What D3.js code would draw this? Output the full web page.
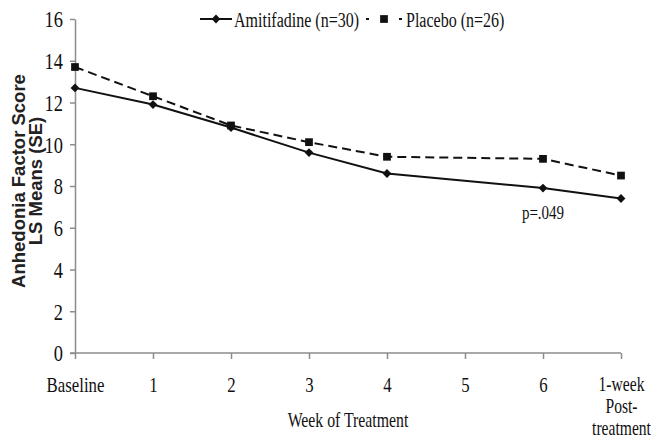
<!DOCTYPE html>
<html>
<head>
<meta charset="utf-8">
<script src="https://cdn.jsdelivr.net/npm/d3@7/dist/d3.min.js"></script>
<style>
  html, body { margin: 0; padding: 0; background: #fff; }
  svg { display: block; }
</style>
</head>
<body>
<svg id="chart" width="652" height="441"></svg>
<script>
// ---- Data ----
const categories = ["Baseline", "1", "2", "3", "4", "5", "6", "1-week Post- treatment"];
const tickLabels = [["Baseline"], ["1"], ["2"], ["3"], ["4"], ["5"], ["6"], ["1-week", "Post-", "treatment"]];
const amitifadine = [12.7, 11.9, 10.8, 9.6, 8.6, null, 7.9, 7.4];
const placebo = [13.7, 12.3, 10.9, 10.1, 9.4, null, 9.3, 8.5];
const yTicks = [0, 2, 4, 6, 8, 10, 12, 14, 16];
const seriesNames = ["Amitifadine (n=30)", "Placebo (n=26)"];
const yTitle = ["Anhedonia Factor Score", "LS Means (SE)"];
const xTitle = "Week of Treatment";
const pNote = "p=.049";

// ---- Setup ----
const svg = d3.select("#chart");
const plotL = 75, plotR = 621, plotT = 19, plotB = 353;
const SX = 0.8;
const serif = "'Liberation Serif', 'Times New Roman', serif";
const axisColor = "#8c8c8c";
const ink = "#111";

const x = d3.scalePoint().domain(d3.range(categories.length)).range([plotL, plotR]);
const y = d3.scaleLinear().domain([0, 16]).range([plotB, plotT]);

// ---- Y axis ----
const yAxis = svg.append("g")
  .attr("transform", `translate(${plotL},0)`)
  .call(d3.axisLeft(y).tickValues(yTicks).tickSize(5).tickSizeOuter(0).tickFormat(d3.format("d")));
yAxis.select(".domain").attr("stroke", axisColor).attr("stroke-width", 1.5);
yAxis.selectAll(".tick line").attr("stroke", axisColor).attr("stroke-width", 1.5);
yAxis.selectAll(".tick text")
  .attr("font-family", serif).attr("font-size", 23).attr("fill", ink)
  .attr("x", -12 / SX).attr("dy", "0.34em")
  .attr("transform", `scale(${SX},1)`);

// ---- X axis ----
const xAxis = svg.append("g")
  .attr("transform", `translate(0,${plotB})`)
  .call(d3.axisBottom(x).tickSize(6).tickSizeOuter(0).tickFormat(() => ""));
xAxis.select(".domain").attr("stroke", axisColor).attr("stroke-width", 1.5)
  .attr("d", `M${plotL - 5},0H${plotR}`);
xAxis.selectAll(".tick line").attr("stroke", axisColor).attr("stroke-width", 1.5);
xAxis.selectAll(".tick text").remove();
xAxis.selectAll(".tick").each(function(d) {
  const multi = tickLabels[d].length > 1;
  const t = d3.select(this).append("text")
    .attr("font-family", serif).attr("font-size", multi ? 20 : 21).attr("fill", ink)
    .attr("text-anchor", "middle")
    .attr("transform", `scale(${multi ? 0.78 : SX},1)`);
  tickLabels[d].forEach((s, i) => {
    t.append("tspan").attr("x", 0).attr("y", (multi ? 38 : 39) + i * 22).text(s);
  });
});

// ---- Axis titles ----
svg.append("text")
  .attr("transform", `translate(${(plotL + plotR) / 2},427) scale(0.79,1)`)
  .attr("text-anchor", "middle")
  .attr("font-family", serif).attr("font-size", 20).attr("fill", ink)
  .text(xTitle);

const yt = svg.append("text")
  .attr("transform", `translate(0,181) rotate(-90)`)
  .attr("text-anchor", "middle")
  .attr("font-family", "'Liberation Sans', Arial, sans-serif")
  .attr("font-weight", "bold").attr("font-size", 18.5).attr("fill", "#222");
yTitle.forEach((s, i) => {
  yt.append("tspan").attr("x", 0).attr("y", 25 + i * 17).text(s);
});

// ---- Lines ----
const line = d3.line().x(d => x(d.i)).y(d => y(d.v));
const toPts = arr => arr.map((v, i) => ({ i, v })).filter(d => d.v !== null);

const ptsA = toPts(amitifadine);
const ptsP = toPts(placebo);

svg.append("path").datum(ptsP).attr("d", line)
  .attr("fill", "none").attr("stroke", ink).attr("stroke-width", 2)
  .attr("stroke-dasharray", "9,5");
svg.append("path").datum(ptsA).attr("d", line)
  .attr("fill", "none").attr("stroke", ink).attr("stroke-width", 2);

const diamond = d3.symbol().type(d3.symbolDiamond2).size(50);
const square = d3.symbol().type(d3.symbolSquare).size(60);

svg.selectAll(".mp").data(ptsP).enter().append("path")
  .attr("transform", d => `translate(${x(d.i)},${y(d.v)})`)
  .attr("d", square).attr("fill", ink);
svg.selectAll(".ma").data(ptsA).enter().append("path")
  .attr("transform", d => `translate(${x(d.i)},${y(d.v)})`)
  .attr("d", diamond).attr("fill", ink);

// ---- p-value note ----
svg.append("text")
  .attr("transform", `translate(${x(6)},219) scale(0.79,1)`)
  .attr("text-anchor", "middle")
  .attr("font-family", serif).attr("font-size", 19).attr("fill", ink)
  .text(pNote);

// ---- Legend ----
const lg = svg.append("g");
lg.append("line").attr("x1", 200).attr("x2", 232).attr("y1", 19).attr("y2", 19)
  .attr("stroke", ink).attr("stroke-width", 2);
lg.append("path").attr("transform", "translate(216,19)").attr("d", diamond).attr("fill", ink);
lg.append("text").attr("transform", "translate(234,27) scale(0.8,1)")
  .attr("font-family", serif).attr("font-size", 20).attr("fill", ink)
  .text(seriesNames[0]);

lg.append("line").attr("x1", 366).attr("x2", 402).attr("y1", 19).attr("y2", 19)
  .attr("stroke", ink).attr("stroke-width", 2)
  .attr("stroke-dasharray", "3,13,4,13,3");
lg.append("path").attr("transform", "translate(384,19)").attr("d", square).attr("fill", ink);
lg.append("text").attr("transform", "translate(406,27) scale(0.8,1)")
  .attr("font-family", serif).attr("font-size", 20).attr("fill", ink)
  .text(seriesNames[1]);
</script>
</body>
</html>
